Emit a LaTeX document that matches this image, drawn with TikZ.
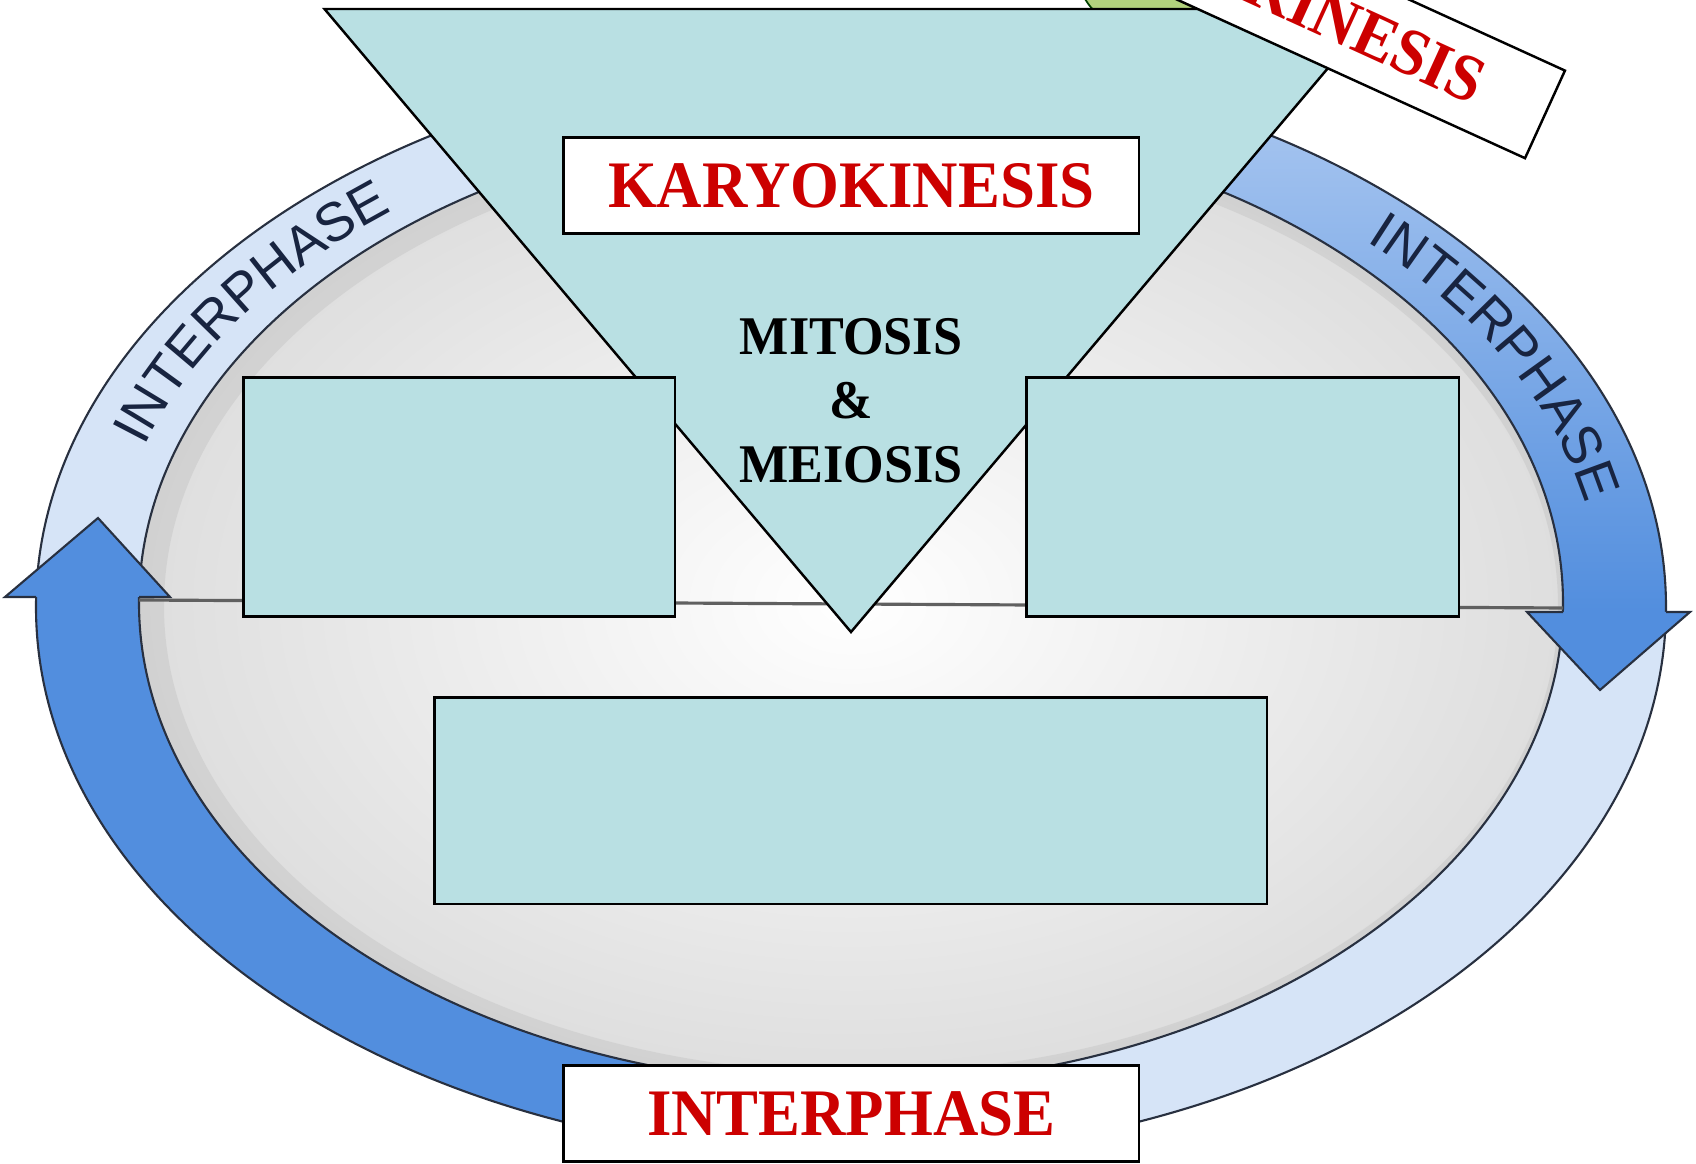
\documentclass[tikz,border=0pt]{standalone}
\usepackage{fontspec}
\setmainfont{Liberation Serif}
\newfontfamily\ringfontfam{Liberation Sans}
\usepackage{graphicx}
\usetikzlibrary{decorations.text}
\definecolor{boxcyan}{RGB}{185,224,227}
\definecolor{labred}{RGB}{204,0,0}
\definecolor{ringlight}{RGB}{214,228,247}
\definecolor{arrowdark}{RGB}{82,142,222}
\definecolor{arrowmid}{RGB}{168,198,240}
\definecolor{ringedge}{RGB}{40,48,64}
\definecolor{ringtext}{RGB}{24,36,64}
\definecolor{cellgray}{RGB}{222,222,222}
\definecolor{leafgreen}{RGB}{178,210,125}
\newcommand\labelfont{\fontsize{18.9}{22}\selectfont\bfseries}
\newcommand\mitfont{\fontsize{15.5}{18}\selectfont\bfseries}
\newcommand\ringstyle{\ringfontfam\fontsize{15.5}{18}\selectfont}
\newcommand\lab[1]{\scalebox{0.945}[1]{#1}}
\begin{document}
\begin{tikzpicture}[x=0.01cm,y=-0.01cm,
  cyanbox/.style={draw=black, line width=0.7pt, fill=boxcyan, inner sep=0pt, outer sep=0pt},
  labelbox/.style={draw=black, line width=0.7pt, fill=white, inner sep=0pt, outer sep=0pt,
     minimum width=5.755cm, minimum height=0.962cm, text=labred, font=\labelfont},
  ringline/.style={draw=ringedge, line width=0.6pt},
  headline/.style={draw=ringedge, line width=0.6pt, line join=miter},
  ringlabel/.style={decorate, decoration={text along path, text={|\ringstyle|#1},
     text align=center, text color=ringtext}}]

\clip (0,0) rectangle (1696,1164);
\fill[white] (0,0) rectangle (1696,1164);

\def\ringouter{(851,607) ellipse[x radius=815, y radius=550]}
\def\ringinner{(851,603) ellipse[x radius=712, y radius=482]}

% ring base
\fill[ringlight] \ringouter;
% left dark arrow body
\begin{scope}
  \clip (0,597) rectangle (851,1164);
  \fill[arrowdark] \ringouter;
\end{scope}
% right arrow body
\begin{scope}
  \clip (851,0) rectangle (1696,612);
  \clip \ringouter;
  \shade[top color=arrowmid, bottom color=arrowdark] (851,100) rectangle (1696,612);
\end{scope}
% cell interior
\shade[inner color=white, outer color=cellgray] \ringinner;
\begin{scope}
  \clip \ringinner;
  \draw[gray, opacity=0.13, line width=0.3cm, shift={(10,3)}] \ringinner;
\end{scope}
\draw[ringline] \ringouter;
\draw[ringline] \ringinner;

% division line
\coordinate (hl) at (139,600);
\coordinate (hr) at (1563,608);
\draw[line width=0.9pt, color=gray!75!black] (hl) -- (hr);

% arrow heads
\coordinate (lw1) at (5,597);
\coordinate (ltip) at (98,518);
\coordinate (lw2) at (170,597);
\fill[arrowdark] (lw1) -- (ltip) -- (lw2) -- cycle;
\draw[headline] (36,597) -- (lw1) -- (ltip) -- (lw2) -- (139,597);
\coordinate (rw1) at (1527,612);
\coordinate (rtip) at (1600,690);
\coordinate (rw2) at (1690,612);
\fill[arrowdark] (rw1) -- (rtip) -- (rw2) -- cycle;
\draw[headline] (1563,612) -- (rw1) -- (rtip) -- (rw2) -- (1666,612);

% ring labels
\path[ringlabel=INTERPHASE] (851,605) ++(188:745 and 500) arc[start angle=188, end angle=240, x radius=745, y radius=500];
\path[ringlabel=INTERPHASE] (851,605) ++(306:750 and 500) arc[start angle=306, end angle=358, x radius=750, y radius=500];

% green cell peeking at top
\draw[fill=leafgreen, draw=green!25!black, line width=0.5pt] (1180,-20) ellipse[x radius=100, y radius=60];

% central triangle
\coordinate (tl) at (324.5,9);
\coordinate (tr) at (1378,9);
\coordinate (apex) at (851,632);
\draw[fill=boxcyan, line width=0.7pt, line join=miter] (tl) -- (tr) -- (apex) -- cycle;

% boxes
\node[cyanbox, minimum width=4.316cm, minimum height=2.39cm] (leftbox) at (459.2,497) {};
\node[cyanbox, minimum width=4.325cm, minimum height=2.39cm] (rightbox) at (1242.75,497) {};
\node[cyanbox, minimum width=8.318cm, minimum height=2.066cm] (bottombox) at (850.7,800.9) {};

\node[labelbox] (karyo) at (851.25,185.5) {\lab{KARYOKINESIS}};
\node[labelbox] (inter) at (851.25,1113.5) {\lab{INTERPHASE}};
\node[labelbox, rotate=-24.5] (cyto) at (1283,-5) {\lab{CYTOKINESIS}};

\node[anchor=base, font=\mitfont, inner sep=0pt] (mit1) at (851,355) {\scalebox{0.957}[1]{MITOSIS}};
\node[anchor=base, font=\mitfont, inner sep=0pt] (mit2) at (851,419) {\scalebox{0.957}[1]{\&}};
\node[anchor=base, font=\mitfont, inner sep=0pt] (mit3) at (851,483) {\scalebox{0.957}[1]{MEIOSIS}};
\end{tikzpicture}
\end{document}
